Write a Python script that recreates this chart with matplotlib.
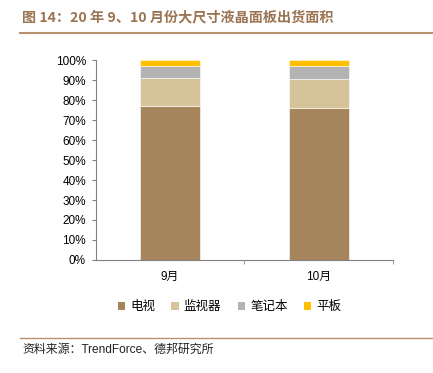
import numpy as np
import matplotlib
matplotlib.use("Agg")
import matplotlib.pyplot as plt
from matplotlib.lines import Line2D
from matplotlib.patches import Patch

plt.rcParams['font.family'] = ['Liberation Sans', 'Noto Sans CJK SC', 'DejaVu Sans']

months = ["9月", "10月"]
tv = [77.0, 76.2]
monitor = [14.0, 14.4]
notebook = [6.0, 6.6]
tablet = [3.0, 2.8]

series = [("电视", tv, "#A6845C"),
          ("监视器", monitor, "#D5C39A"),
          ("笔记本", notebook, "#B3B3B3"),
          ("平板", tablet, "#FFC000")]

fig = plt.figure(figsize=(4.33, 3.73), dpi=100)
ax = fig.add_axes([0.221, 0.303, 0.687, 0.536])

x = np.arange(len(months))
bottom = np.zeros(len(months))
for name, vals, col in series:
    ax.bar(x, vals, 0.4, bottom=bottom, color=col, edgecolor="white",
           linewidth=0.4, label=name)
    bottom += np.array(vals)

ax.set_xlim(-0.5, 1.5)
ax.set_ylim(0, 100)
ax.set_yticks(np.arange(0, 101, 10))
ax.set_yticklabels([f"{v}%" for v in range(0, 101, 10)], fontsize=8.5)
ax.set_xticks(x)
ax.set_xticklabels(months, fontsize=8.5)
ax.set_xticks([0.5, 1.5], minor=True)
ax.tick_params(axis="x", which="major", length=0, pad=8)
ax.tick_params(axis="x", which="minor", length=3, color="#808080", direction="out")
ax.tick_params(axis="y", length=3, color="#808080", pad=4)
for s in ["top", "right"]:
    ax.spines[s].set_visible(False)
for s in ["left", "bottom"]:
    ax.spines[s].set_color("#808080")
    ax.spines[s].set_linewidth(0.8)

handles = [Patch(facecolor=c, edgecolor="none") for _, _, c in series]
fig.legend(handles, [n for n, _, _ in series], loc="center", ncol=4,
           bbox_to_anchor=(0.53, 0.178), frameon=False,
           handlelength=0.6, handleheight=0.6, handletextpad=0.4, columnspacing=1.3,
           prop={'family': ['Noto Sans CJK SC'], 'size': 9})

# title and source
fig.text(0.051, 0.953, "图 14：20 年 9、10 月份大尺寸液晶面板出货面积", fontsize=10.2,
         fontweight="bold", color="#9B7453", va="center", ha="left",
         family=['Noto Sans CJK SC'])
fig.add_artist(Line2D([0.047, 0.998], [0.912, 0.912], transform=fig.transFigure,
                      color="#B8926E", linewidth=1.5))
fig.add_artist(Line2D([0.047, 0.998], [0.094, 0.094], transform=fig.transFigure,
                      color="#B8926E", linewidth=1.0))
fig.text(0.051, 0.062, "资料来源：TrendForce、德邦研究所", fontsize=8.6,
         color="#222222", va="center", ha="left",
         family=['Liberation Sans', 'Noto Sans CJK SC'])

fig.savefig("out.png", dpi=100)
